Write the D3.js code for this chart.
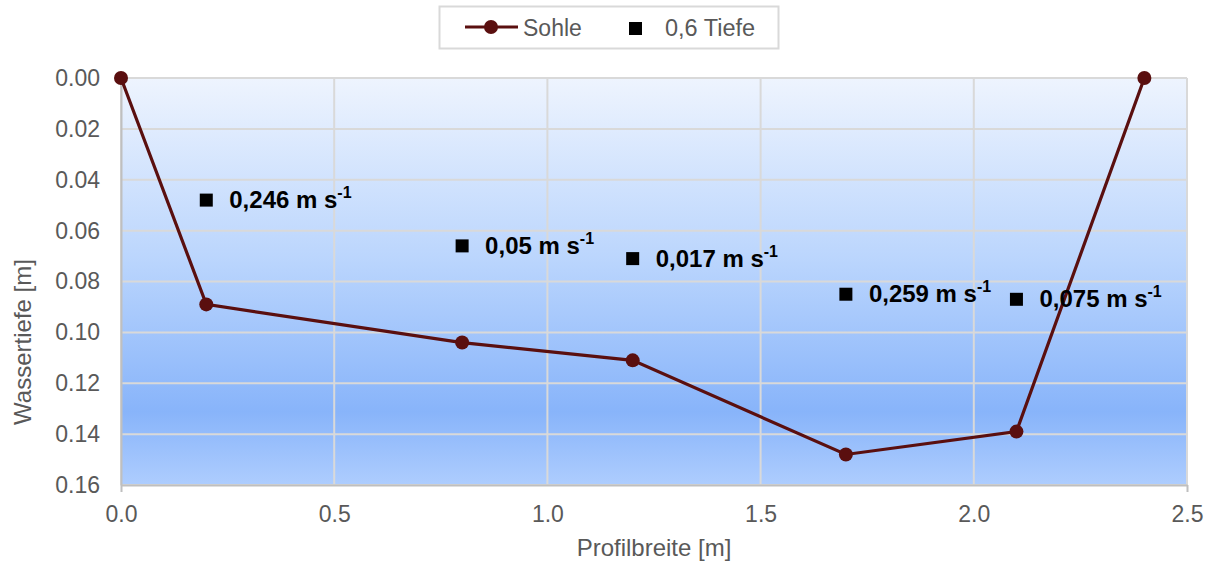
<!DOCTYPE html>
<html>
<head>
<meta charset="utf-8">
<script src="https://cdn.jsdelivr.net/npm/d3@7"></script>
<style>
  html, body { margin: 0; padding: 0; background: #fff; }
  svg { display: block; font-family: "Liberation Sans", Arial, sans-serif; }
</style>
</head>
<body>
<svg id="chart" width="1213" height="567"></svg>
<script>
// Channel cross-section: bed profile and velocity points at 0.6 depth
const sohleX = [0.0, 0.2, 0.8, 1.2, 1.7, 2.1, 2.4];
const sohleY = [0.0, 0.089, 0.104, 0.111, 0.148, 0.139, 0.0];

const tiefeX = [0.2, 0.8, 1.2, 1.7, 2.1];
const tiefeY = [0.048, 0.066, 0.071, 0.085, 0.087];
const tiefeLabel = ["0,246", "0,05", "0,017", "0,259", "0,075"];

const xTicks = [0.0, 0.5, 1.0, 1.5, 2.0, 2.5];
const yTicks = [0.00, 0.02, 0.04, 0.06, 0.08, 0.10, 0.12, 0.14, 0.16];

const svg = d3.select("#chart");
const plotL = 121, plotR = 1187, plotT = 78, plotB = 485;

const x = d3.scaleLinear().domain([0, 2.5]).range([plotL, plotR]);
const y = d3.scaleLinear().domain([0, 0.16]).range([plotT, plotB]);

// Plot-area gradient
const defs = svg.append("defs");
const grad = defs.append("linearGradient").attr("id", "bg")
  .attr("x1", 0).attr("y1", 0).attr("x2", 0).attr("y2", 1);
[["0%", "#eef4fe"], ["45%", "#bad5fd"], ["82%", "#88b4fa"], ["100%", "#aecdfe"]]
  .forEach(([o, c]) => grad.append("stop").attr("offset", o).attr("stop-color", c));

svg.append("rect").attr("x", plotL).attr("y", plotT)
  .attr("width", plotR - plotL).attr("height", plotB - plotT)
  .attr("fill", "url(#bg)");

// Gridlines
const grid = svg.append("g").attr("stroke", "#d9d9d9").attr("stroke-width", 2);
yTicks.forEach(t => {
  grid.append("line").attr("x1", plotL).attr("x2", plotR)
    .attr("y1", y(t)).attr("y2", y(t));
});
xTicks.forEach(t => {
  grid.append("line").attr("x1", x(t)).attr("x2", x(t))
    .attr("y1", plotT).attr("y2", plotB);
});

// Axes
const xAxis = svg.append("g").attr("transform", `translate(0,${plotB})`)
  .call(d3.axisBottom(x).tickValues(xTicks).tickFormat(d3.format(".1f"))
    .tickSize(7).tickSizeOuter(0).tickPadding(14));
const yAxis = svg.append("g").attr("transform", `translate(${plotL},0)`)
  .call(d3.axisLeft(y).tickValues(yTicks).tickFormat(d3.format(".2f"))
    .tickSize(0).tickPadding(21));
[xAxis, yAxis].forEach(a => {
  a.select(".domain").attr("stroke", "#bfbfbf").attr("stroke-width", 2);
  a.selectAll(".tick line").attr("stroke", "#bfbfbf").attr("stroke-width", 2);
  a.selectAll(".tick text").attr("fill", "#595959").style("font-size", "23px");
});
xAxis.selectAll(".tick line").filter(d => d !== 0 && d !== 2.5).remove();

// Axis titles
svg.append("text").attr("x", (plotL + plotR) / 2).attr("y", 556)
  .attr("text-anchor", "middle").attr("fill", "#595959")
  .style("font-size", "24px").text("Profilbreite [m]");
svg.append("text").attr("transform", "translate(31,342) rotate(-90)")
  .attr("text-anchor", "middle").attr("fill", "#595959")
  .style("font-size", "24px").text("Wassertiefe [m]");

// Bed line
const color = "#5a0f0f";
const pts = sohleX.map((v, i) => [v, sohleY[i]]);
svg.append("path").datum(pts)
  .attr("fill", "none").attr("stroke", color).attr("stroke-width", 3.2)
  .attr("d", d3.line().x(d => x(d[0])).y(d => y(d[1])));
svg.append("g").selectAll("circle").data(pts).join("circle")
  .attr("cx", d => x(d[0])).attr("cy", d => y(d[1])).attr("r", 7)
  .attr("fill", color);

// Velocity points and labels
const vp = tiefeX.map((v, i) => ({ x: v, y: tiefeY[i], label: tiefeLabel[i] }));
const g = svg.append("g");
g.selectAll("rect").data(vp).join("rect")
  .attr("x", d => x(d.x) - 6.5).attr("y", d => y(d.y) - 6.5)
  .attr("width", 13).attr("height", 13).attr("fill", "#000");
const lbl = g.selectAll("text").data(vp).join("text")
  .attr("x", d => x(d.x) + 23).attr("y", d => y(d.y) + 8)
  .attr("fill", "#000").style("font-size", "24px").style("font-weight", "bold");
lbl.append("tspan").text(d => d.label + " m s");
lbl.append("tspan").attr("dy", -10).style("font-size", "16px").text("-1");

// Legend
const lg = svg.append("g");
lg.append("rect").attr("x", 439.5).attr("y", 6.5).attr("width", 339).attr("height", 42)
  .attr("fill", "#fff").attr("stroke", "#d9d9d9").attr("stroke-width", 2);
lg.append("line").attr("x1", 465).attr("x2", 518).attr("y1", 27).attr("y2", 27)
  .attr("stroke", color).attr("stroke-width", 3.2);
lg.append("circle").attr("cx", 491).attr("cy", 27).attr("r", 7).attr("fill", color);
lg.append("text").attr("x", 523).attr("y", 36).attr("fill", "#595959")
  .style("font-size", "23px").text("Sohle");
lg.append("rect").attr("x", 629).attr("y", 22).attr("width", 13).attr("height", 13).attr("fill", "#000");
lg.append("text").attr("x", 665).attr("y", 36).attr("fill", "#595959")
  .style("font-size", "23.5px").text("0,6 Tiefe");
</script>
</body>
</html>
